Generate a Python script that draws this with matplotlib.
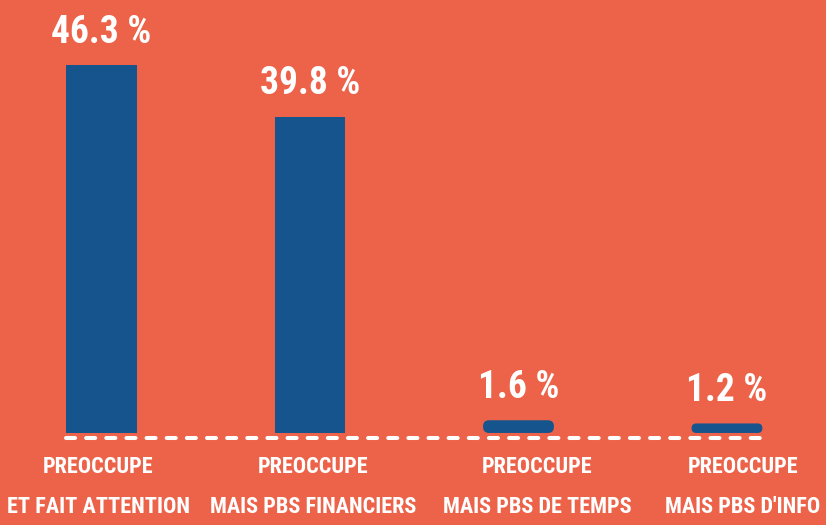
import matplotlib
matplotlib.use("Agg")
import matplotlib.pyplot as plt
from matplotlib.patches import FancyBboxPatch

categories = ["PREOCCUPE\nET FAIT ATTENTION", "PREOCCUPE\nMAIS PBS FINANCIERS",
              "PREOCCUPE\nMAIS PBS DE TEMPS", "PREOCCUPE\nMAIS PBS D'INFO"]
valeurs = [46.3, 39.8, 1.6, 1.2]
etiquettes = ["46.3 %", "39.8 %", "1.6 %", "1.2 %"]

fond = "#ED634A"
bleu = "#16548E"
police = ["Roboto Condensed", "Liberation Sans Narrow", "DejaVu Sans"]

fig = plt.figure(figsize=(8.26, 5.25), dpi=100)
fig.patch.set_facecolor(fond)
ax = fig.add_axes([0, 0, 1, 1])
ax.set_facecolor(fond)

x = list(range(len(valeurs)))
largeur = 0.34
barres = ax.bar(x, valeurs, width=largeur, color=bleu)

ax.set_xlim(-0.487, 3.475)
ax.set_ylim(-11.58, 54.48)

# petites barres arrondies
px_x = 208.5
px_y = 7.948
aspect = px_x / px_y
for b, v in zip(barres, valeurs):
    if v < 5:
        b.set_visible(False)
        r_px = min(6, v * px_y / 2)
        p = FancyBboxPatch((b.get_x(), 0), b.get_width(), v,
                           boxstyle="round,pad=0,rounding_size=%f" % (r_px / px_x),
                           mutation_aspect=aspect, fc=bleu, ec="none")
        ax.add_patch(p)

# ligne pointillee
ligne = ax.hlines(-0.63, -largeur / 2, x[-1] + largeur / 2, colors="white", linewidth=2.9)
ligne.set_linestyle((0, (2.25, 2.75)))
ligne.set_capstyle("round")

for xi, v, t in zip(x, valeurs, etiquettes):
    ax.text(xi, v + 2.8, t, ha="center", va="baseline", color="white",
            fontsize=27, fontweight="bold", family=police)

decalage = [-0.015, 0.015, 0.09, 0.075]
for xi, d, c in zip(x, decalage, categories):
    ax.text(xi + d, -2.9, c, ha="center", va="top", color="white", fontsize=16,
            fontweight="bold", family=police, linespacing=2.05)

ax.axis("off")
plt.savefig("out.png", facecolor=fond)
